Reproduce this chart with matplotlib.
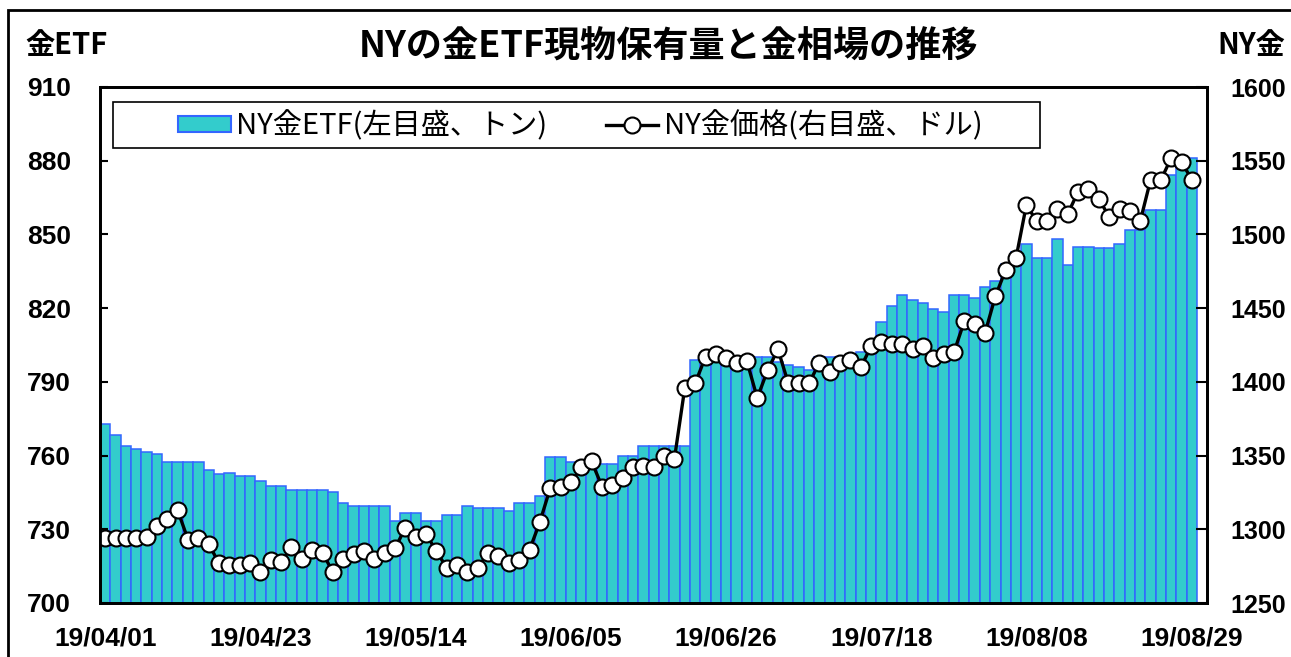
import numpy as np
import pandas as pd
import matplotlib
matplotlib.use('Agg')
import matplotlib.pyplot as plt
from matplotlib.patches import Rectangle
from matplotlib.lines import Line2D

plt.rcParams['font.family'] = ['Noto Sans CJK JP', 'DejaVu Sans']

# US trading days 2019/04/01 - 2019/08/29
holidays = ['2019-04-19', '2019-05-27', '2019-07-04']
dates = pd.bdate_range('2019-04-01', '2019-08-29')
dates = dates[~dates.isin(pd.to_datetime(holidays))]

# NY gold ETF holdings (tonnes, left axis)
etf = [773, 768.5, 764, 762.5, 761.5, 760.5, 757.5, 757.5, 757.5, 757.5,
       754, 752.5, 753, 751.5, 751.5, 749.5, 747.5, 747.5, 746, 746,
       746, 746, 745, 740.5, 739.5, 739.5, 739.5, 739.5, 733.5, 736.5,
       736.5, 733.5, 733.5, 736, 736, 739.5, 738.5, 738.5, 738.5, 737.5,
       740.5, 740.5, 743.5, 759.5, 759.5, 757.5, 756.5, 756.5, 756.5, 756.5,
       760, 760, 764, 764, 764, 764, 764, 799, 800, 800,
       797, 797, 797, 800, 800, 798, 797, 796, 795, 800,
       800, 800, 801, 802, 806, 814.5, 821, 825.5, 823.5, 822,
       819.5, 818.5, 825.5, 825.5, 824, 828.5, 831, 838, 843, 846,
       840.5, 840.5, 848, 837.5, 845, 845, 844.5, 844.5, 846, 852,
       852, 860, 860, 874, 877, 881]

# NY gold price (USD, right axis)
price = [1294, 1294, 1294, 1294, 1295, 1302, 1307, 1313, 1293, 1294,
         1290, 1277, 1276, 1276, 1277, 1271, 1279, 1278, 1288, 1280,
         1286, 1284, 1271, 1280, 1283, 1285, 1280, 1284, 1287, 1301,
         1295, 1297, 1285, 1274, 1276, 1271, 1274, 1284, 1282, 1277,
         1279, 1286, 1305, 1328, 1329, 1332, 1342, 1346, 1329, 1330,
         1335, 1342, 1343, 1342, 1350, 1348, 1396, 1399, 1417, 1419,
         1416, 1413, 1414, 1389, 1408, 1422, 1399, 1399, 1399, 1413,
         1407, 1413, 1415, 1410, 1424, 1427, 1426, 1426, 1422, 1424,
         1416, 1419, 1420, 1441, 1439, 1433, 1458, 1476, 1484, 1520,
         1509, 1509, 1517, 1514, 1529, 1531, 1524, 1512, 1517, 1516,
         1509, 1537, 1537, 1552, 1549, 1537]

TITLE = 'NYの金ETF現物保有量と金相場の推移'
LABEL_ETF = 'NY金ETF(左目盛、トン)'
LABEL_PRICE = 'NY金価格(右目盛、ドル)'

BAR_FACE = '#33CCCC'
BAR_EDGE = '#3366FF'
TICK_FONT = {'family': 'Liberation Sans', 'weight': 'bold', 'size': 19}
RTICK_FONT = {'family': 'Liberation Sans', 'weight': 'bold', 'size': 18}

W, H = 1291, 657
fig = plt.figure(figsize=(W / 100, H / 100), dpi=100)
fig.patch.set_facecolor('white')

# outer frame of the chart
fig.add_artist(Rectangle((8 / W, -0.1), 1.2, 1 - 10 / H + 0.1, transform=fig.transFigure,
                         fill=False, edgecolor='black', linewidth=2))

ax = fig.add_axes([100 / W, 1 - 603 / H, (1207 - 100) / W, (603 - 87) / H])
x = np.arange(len(dates))
ax.bar(x, etf, width=1.0, color=BAR_FACE, edgecolor=BAR_EDGE, linewidth=1.1)
ax.set_xlim(-0.5, 106.45)
ax.set_ylim(700, 910)
ax.set_yticks(np.arange(700, 911, 30))
ax.set_yticklabels([str(v) for v in range(700, 911, 30)], fontdict=TICK_FONT)
tick_idx = list(range(0, len(dates), 15))
ax.set_xticks(tick_idx)
ax.set_xticklabels([dates[i].strftime('%y/%m/%d') for i in tick_idx], fontdict=TICK_FONT)
ax.tick_params(axis='y', direction='in', length=6, width=1.5, pad=21)
ax.tick_params(axis='x', length=0, pad=17)
for s in ax.spines.values():
    s.set_linewidth(2)

ax2 = ax.twinx()
ax2.plot(x, price, color='black', linewidth=2.4, marker='o', markersize=11.5,
         markerfacecolor='white', markeredgecolor='black', markeredgewidth=1.5)
ax2.set_ylim(1250, 1600)
ax2.set_yticks(np.arange(1250, 1601, 50))
ax2.set_yticklabels([str(v) for v in range(1250, 1601, 50)], fontdict=RTICK_FONT)
ax2.tick_params(axis='y', direction='in', length=8, width=1.5, pad=17)
for s in ax2.spines.values():
    s.set_linewidth(2)

# legend box
ax2.add_patch(Rectangle((13 / 1107, (603 - 148) / 516), (1040 - 113) / 1107, 46 / 516,
                        transform=ax2.transAxes, facecolor='white', edgecolor='black',
                        linewidth=1.2, zorder=4.5, clip_on=False))
handles = [Rectangle((0, 0), 1, 1, facecolor=BAR_FACE, edgecolor=BAR_EDGE, linewidth=1.5),
           Line2D([], [], color='black', linewidth=2.4, marker='o', markersize=11.5,
                  markerfacecolor='white', markeredgecolor='black', markeredgewidth=1.5)]
leg = ax2.legend(handles, [LABEL_ETF, LABEL_PRICE], ncol=2, loc='center left',
                 bbox_to_anchor=(78 / 1107, (603 - 126) / 516), prop={'size': 21},
                 frameon=False, handlelength=1.8, handleheight=0.5,
                 columnspacing=2.0, borderpad=0, borderaxespad=0, handletextpad=0.2,
                 numpoints=1)
leg.set_zorder(5)

fig.text(668 / W, 1 - 47 / H, TITLE, ha='center', va='center', fontsize=26, fontweight='bold')
fig.text(25 / W, 1 - 45 / H, '金ETF', ha='left', va='center', fontsize=21, fontweight='bold')
fig.text(1285 / W, 1 - 45 / H, 'NY金', ha='right', va='center', fontsize=21, fontweight='bold')

fig.savefig('out.png', dpi=100)
